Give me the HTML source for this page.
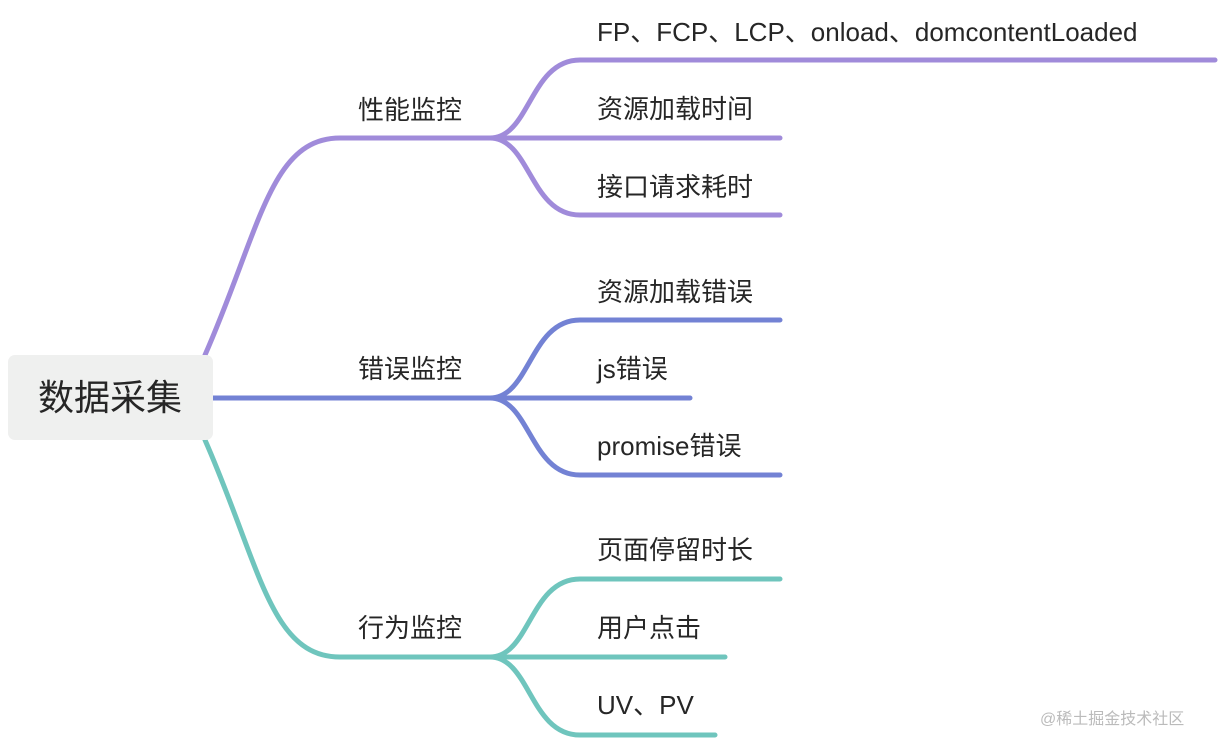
<!DOCTYPE html>
<html><head><meta charset="utf-8"><style>
body{margin:0;width:1220px;height:738px;background:#fff;overflow:hidden;position:relative;font-family:"Liberation Sans","Noto Sans CJK SC",sans-serif;color:#262626}
.t{position:absolute;font-size:26px;line-height:30px;white-space:nowrap}
</style></head><body>
<svg width="1220" height="738" style="position:absolute;left:0;top:0" fill="none" stroke-width="5" stroke-linecap="round">
<g stroke="#a08bda">
<path d="M205 355 C260 230 270 138 340 138 L490 138"/>
<path d="M490 138 C530 138 530 60 580 60 L1215 60"/>
<path d="M490 138 L780 138"/>
<path d="M490 138 C530 138 530 215 580 215 L780 215"/>
</g>
<g stroke="#7382d4">
<path d="M213 398 L490 398"/>
<path d="M490 398 C530 398 530 320 580 320 L780 320"/>
<path d="M490 398 L690 398"/>
<path d="M490 398 C530 398 530 475 580 475 L780 475"/>
</g>
<g stroke="#6fc5bd">
<path d="M205 440 C260 565 270 657 340 657 L490 657"/>
<path d="M490 657 C530 657 530 579 580 579 L780 579"/>
<path d="M490 657 L725 657"/>
<path d="M490 657 C530 657 530 735 580 735 L715 735"/>
</g>
</svg>
<div style="position:absolute;left:8px;top:355px;width:205px;height:85px;background:#eff0ef;border-radius:7px"></div>
<div class="t" style="left:38px;top:378px;font-size:36px;line-height:40px">数据采集</div>
<div class="t" style="left:358px;top:95px">性能监控</div>
<div class="t" style="left:358px;top:354px">错误监控</div>
<div class="t" style="left:358px;top:613px">行为监控</div>
<div class="t" style="left:597px;top:17px">FP、FCP、LCP、onload、domcontentLoaded</div>
<div class="t" style="left:597px;top:94px">资源加载时间</div>
<div class="t" style="left:597px;top:172px">接口请求耗时</div>
<div class="t" style="left:597px;top:277px">资源加载错误</div>
<div class="t" style="left:597px;top:354px">js错误</div>
<div class="t" style="left:597px;top:431px">promise错误</div>
<div class="t" style="left:597px;top:535px">页面停留时长</div>
<div class="t" style="left:597px;top:613px">用户点击</div>
<div class="t" style="left:597px;top:690px">UV、PV</div>
<div class="t" style="left:1040px;top:710px;font-size:16px;line-height:20px;color:#bbb">@稀土掘金技术社区</div>
</body></html>
